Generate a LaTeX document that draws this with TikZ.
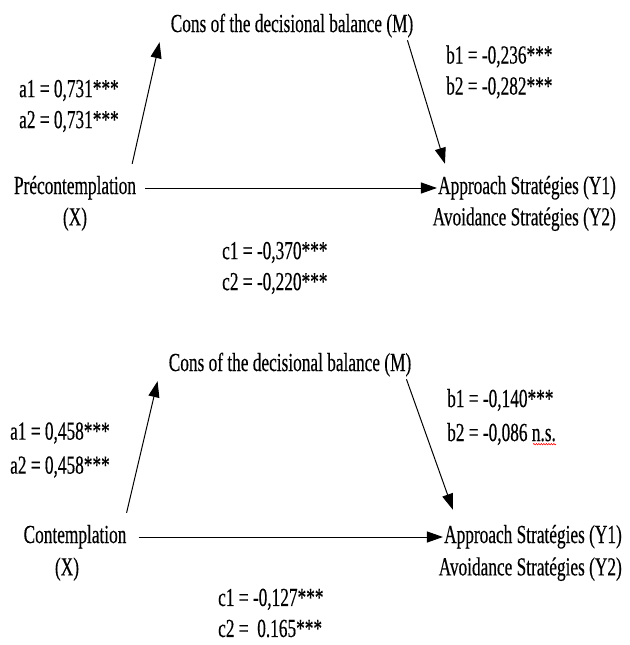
\documentclass[tikz,border=0pt]{standalone}
\usepackage{fontspec}
\setmainfont[FakeStretch=0.665, FakeBold=0.35]{Liberation Serif}
\usetikzlibrary{arrows.meta,positioning,calc,decorations.pathmorphing}
\tikzset{
  % Variable label: one line, fixed box so lines stack evenly
  varlbl/.style={inner sep=0pt, font=\fontsize{26}{31}\selectfont,
                 text height=18pt, text depth=6pt},
  % Coefficient pair: two left-aligned lines
  coef/.style={inner sep=0pt, align=left, font=\fontsize{26}{31}\selectfont},
  coef-wide/.style={coef, font=\fontsize{26}{34}\selectfont},
  % Effect paths
  effect/.style={-{Triangle[length=16pt,width=11pt]}, line width=1pt},
  % Spell-check squiggle
  squiggle/.style={red, line width=0.6pt, decorate,
                   decoration={snake, amplitude=0.7pt, segment length=2.5pt}}
}
\begin{document}
\begin{tikzpicture}[x=1pt, y=-1pt]
\useasboundingbox (0,0) rectangle (629,645);

% ============== TOP: PRECONTEMPLATION ==============
\node[varlbl] (consA) at (292,26) {Cons of the decisional balance (M)};
\node[varlbl] (pre) at (75,188) {Précontemplation};
\node[varlbl, below=7pt of pre] (preX) {(X)};
\node[varlbl, anchor=east] (appA) at (616,188) {Approach Stratégies (Y1)};
\node[varlbl, below=7pt of appA.south east, anchor=north east] (avoA) {Avoidance Stratégies (Y2)};

\node[coef, anchor=west] (aA) at (19,106) {a1 = 0,731***\\a2 = 0,731***};
\node[coef, anchor=west] (bA) at (446,72) {b1 = -0,236***\\b2 = -0,282***};
\node[coef, anchor=west] (cA) at (222,268) {c1 = -0,370***\\c2 = -0,220***};

\draw[effect] ([xshift=-4pt,yshift=12pt]pre.north east) -- ([xshift=-11pt,yshift=-4pt]consA.south west);
\draw[effect] ([xshift=-6pt,yshift=-2pt]consA.south east) -- ([xshift=7pt,yshift=12pt]appA.north west);
\draw[effect, shorten <=9pt, shorten >=1pt] (pre) -- (appA);

% ============== BOTTOM: CONTEMPLATION ==============
\node[varlbl] (consB) at (290,365) {Cons of the decisional balance (M)};
\node[varlbl] (con) at (75,537) {Contemplation};
\node[varlbl, below=8pt of con, xshift=-8pt] (conX) {(X)};
\node[varlbl, anchor=east] (appB) at (622,537) {Approach Stratégies (Y1)};
\node[varlbl, below=8pt of appB.south east, anchor=north east] (avoB) {Avoidance Stratégies (Y2)};

\node[coef-wide, anchor=west] (aB) at (10,450) {a1 = 0,458***\\a2 = 0,458***};
\node[coef-wide, anchor=west] (bB) at (447,417) {b1 = -0,140***\\b2 = -0,086 n.s.};
\node[coef, anchor=west] (cB) at (218,613) {c1 = -0,127***\\c2 = \ 0.165***};
\draw[squiggle] ([xshift=-23pt,yshift=1pt]bB.south east) -- ([yshift=1pt]bB.south east);

\draw[effect] ([yshift=12pt]con.north east) -- ([xshift=-11pt,yshift=-4pt]consB.south west);
\draw[effect] ([xshift=-5pt,yshift=-2pt]consB.south east) -- ([xshift=9pt,yshift=15pt]appB.north west);
\draw[effect, shorten <=12pt, shorten >=1pt] (con) -- (appB);

\end{tikzpicture}
\end{document}
